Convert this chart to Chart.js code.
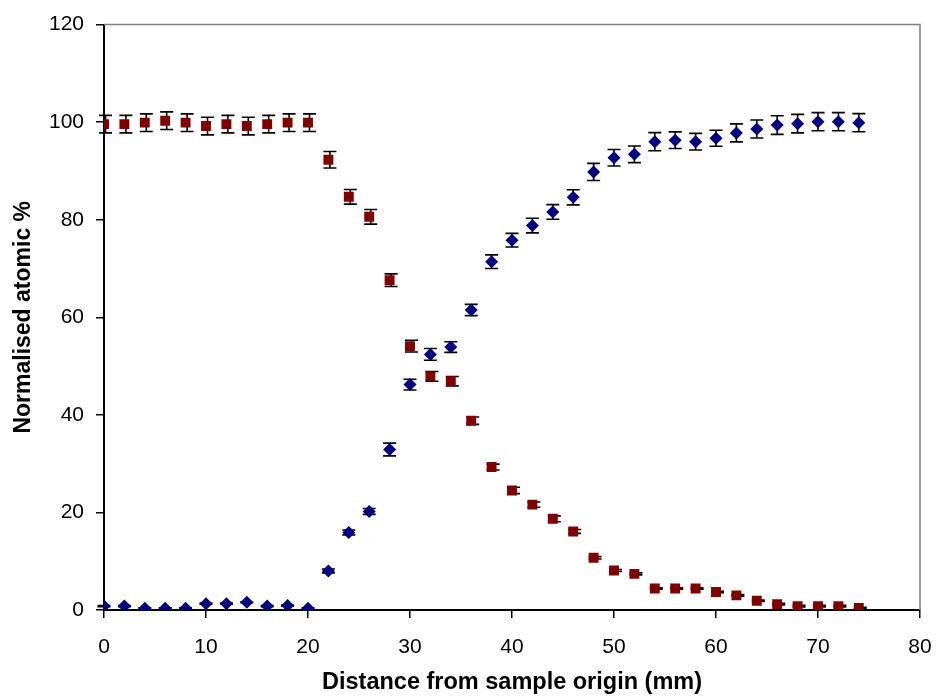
<!DOCTYPE html>
<html>
<head>
<meta charset="utf-8">
<title>Normalised atomic %</title>
<script src="https://cdn.jsdelivr.net/npm/chart.js@4.4.1/dist/chart.umd.min.js"></script>
<style>
  html, body { margin: 0; padding: 0; background: #fff; }
  #wrap { width: 936px; height: 697px; }
</style>
</head>
<body>
<div id="wrap"><canvas id="profile" width="936" height="697"></canvas></div>
<script>
// sampling positions along the specimen (mm)
const distance = [0, 2, 4, 6, 8, 10, 12, 14, 16, 18, 20, 22, 24, 26, 28, 30, 32, 34, 36,
  38, 40, 42, 44, 46, 48, 50, 52, 54, 56, 58, 60, 62, 64, 66, 68, 70, 72, 74]

// square markers: falling profile
const squarePct = [99.6, 99.6, 99.9, 100.3, 99.9, 99.2, 99.6, 99.2, 99.6, 99.9, 99.9, 92.3,
  84.7, 80.6, 67.6, 54.1, 47.9, 46.9, 38.8, 29.3, 24.5, 21.6, 18.7, 16.1, 10.7, 8.1, 7.4,
  4.4, 4.4, 4.4, 3.7, 3.0, 1.9, 1.2, 0.8, 0.8, 0.8, 0.4]
const squareErr = [1.8, 1.8, 1.8, 1.8, 1.8, 1.8, 1.8, 1.8, 1.8, 1.8, 1.8, 1.7,
  1.5, 1.5, 1.3, 1.2, 1.0, 0.95, 0.75, 0.6, 0.65, 0.55, 0.6, 0.4, 0.25, 0.2, 0.2,
  0.15, 0.15, 0.15, 0.15, 0.15, 0.15, 0.15, 0.15, 0.15, 0.15, 0.15]

// diamond markers: rising profile
const diamondPct = [0.8, 0.8, 0.35, 0.35, 0.35, 1.3, 1.3, 1.6, 0.8, 0.9, 0.35, 8.0,
  15.9, 20.2, 32.9, 46.2, 52.4, 53.9, 61.5, 71.4, 75.8, 78.8, 81.6, 84.6, 89.8, 92.7, 93.4,
  96.0, 96.3, 96.0, 96.7, 97.8, 98.6, 99.4, 99.7, 100.1, 100.1, 99.9]
const diamondErr = [0.1, 0.1, 0.1, 0.1, 0.1, 0.1, 0.1, 0.1, 0.1, 0.1, 0.1, 0.4,
  0.5, 0.6, 1.3, 1.1, 1.2, 1.1, 1.15, 1.4, 1.4, 1.5, 1.5, 1.55, 1.75, 1.7, 1.7,
  1.85, 1.7, 1.7, 1.65, 1.85, 1.85, 1.9, 1.9, 1.85, 1.85, 1.85]

const xTicks = { min: 0, max: 80, step: 10 }
const yTicks = { min: 0, max: 120, step: 20 }

const FONT = "'Liberation Sans', Arial, sans-serif"

const toPoints = (vals) => distance.map((d, i) => ({ x: d, y: vals[i] }))

// whiskers go under the markers, so only the caps show around them
const errorBars = {
  id: 'errorBars',
  beforeDatasetsDraw (chart) {
    const { ctx, scales } = chart
    ctx.save()
    ctx.strokeStyle = '#000'
    ctx.lineWidth = 1.6
    chart.data.datasets.forEach((ds) => {
      ds.data.forEach((p, i) => {
        const err = ds.errors[i]
        const px = scales.x.getPixelForValue(p.x) + ds.barShift
        const top = scales.y.getPixelForValue(p.y + err)
        const bot = scales.y.getPixelForValue(p.y - err)
        ctx.beginPath()
        ctx.moveTo(px, top)
        ctx.lineTo(px, bot)
        ctx.moveTo(px - 6.5, top)
        ctx.lineTo(px + 6.5, top)
        ctx.moveTo(px - 6.5, bot)
        ctx.lineTo(px + 6.5, bot)
        ctx.stroke()
      })
    })
    ctx.restore()
  }
}

// grey frame on the top and right of the plot area
const plotFrame = {
  id: 'plotFrame',
  afterDraw (chart) {
    const { ctx, chartArea } = chart
    ctx.save()
    ctx.strokeStyle = '#808080'
    ctx.lineWidth = 1.5
    ctx.beginPath()
    ctx.moveTo(chartArea.left, chartArea.top)
    ctx.lineTo(chartArea.right, chartArea.top)
    ctx.lineTo(chartArea.right, chartArea.bottom)
    ctx.stroke()
    ctx.restore()
  }
}

const axisCommon = {
  type: 'linear',
  grid: {
    drawOnChartArea: false,
    drawTicks: true,
    tickLength: 8,
    color: '#000',
    lineWidth: 1.5
  },
  border: { color: '#000', width: 2 }
}

new Chart(document.getElementById('profile'), {
  type: 'scatter',
  data: {
    datasets: [
      {
        data: toPoints(squarePct),
        errors: squareErr,
        barShift: 1.5,
        pointStyle: 'rect',
        pointRadius: 7,
        pointBackgroundColor: '#800000',
        pointBorderColor: '#800000',
        pointBorderWidth: 0
      },
      {
        data: toPoints(diamondPct),
        errors: diamondErr,
        barShift: 0,
        pointStyle: 'rectRot',
        pointRadius: 6.5,
        pointBackgroundColor: '#000080',
        pointBorderColor: '#000080',
        pointBorderWidth: 0
      }
    ]
  },
  options: {
    responsive: false,
    animation: false,
    devicePixelRatio: 1,
    layout: { padding: { top: 23, right: 16, left: 0, bottom: 0 } },
    plugins: {
      legend: { display: false },
      tooltip: { enabled: false }
    },
    scales: {
      x: {
        ...axisCommon,
        min: xTicks.min,
        max: xTicks.max,
        ticks: { stepSize: xTicks.step, color: '#000', font: { family: FONT, size: 21 }, padding: 17 },
        title: {
          display: true,
          text: 'Distance from sample origin (mm)',
          color: '#000',
          font: { family: FONT, size: 23.5, weight: 'bold' },
          padding: { top: 0, bottom: 0 }
        },
        afterFit (scale) {
          // tick padding would otherwise widen the side margins
          scale.height = 87
          scale.paddingLeft = 0
          scale.paddingRight = 0
        }
      },
      y: {
        ...axisCommon,
        min: yTicks.min,
        max: yTicks.max,
        ticks: { stepSize: yTicks.step, color: '#000', font: { family: FONT, size: 21 }, padding: 12 },
        title: {
          display: true,
          text: 'Normalised atomic %',
          color: '#000',
          font: { family: FONT, size: 23, weight: 'bold' },
          padding: { top: 10, bottom: 0 }
        },
        afterFit (scale) { scale.width = 104 }
      }
    }
  },
  plugins: [errorBars, plotFrame]
})
</script>
</body>
</html>
